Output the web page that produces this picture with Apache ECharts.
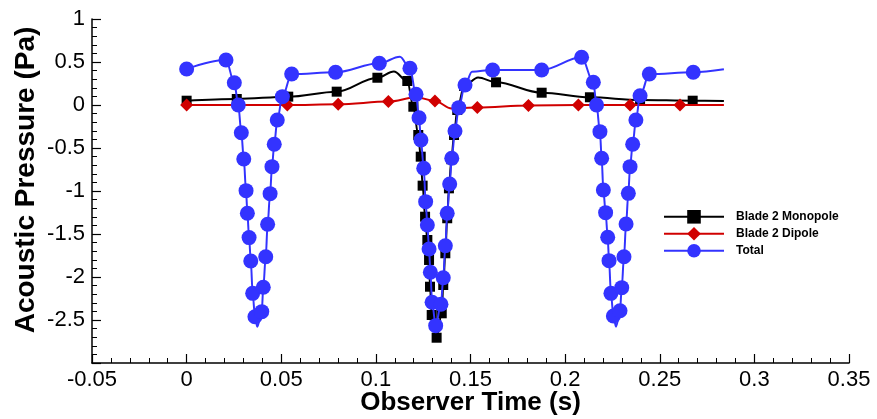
<!DOCTYPE html>
<html><head><meta charset="utf-8">
<script src="https://cdn.jsdelivr.net/npm/echarts@6/dist/echarts.min.js"></script>
<style>html,body{margin:0;padding:0;background:#fff}#c{width:877px;height:419px}</style>
</head><body><div id="c"></div>
<script>
// Series names
const seriesNames = ['Blade 2 Monopole', 'Blade 2 Dipole', 'Total'];

// Blade 2 Monopole: marked points
const monoX = [0.0, 0.0265, 0.0537, 0.0793, 0.1008, 0.1166, 0.1198, 0.1224, 0.1237, 0.1247, 0.1260, 0.1272, 0.1281, 0.1286, 0.1295, 0.1321, 0.1348, 0.1356, 0.1367, 0.1377, 0.1386, 0.1399, 0.1413, 0.1430, 0.1466, 0.1635, 0.1876, 0.2131, 0.2396, 0.2674];
const monoY = [0.05, 0.07, 0.097, 0.155, 0.317, 0.279, -0.02, -0.349, -0.601, -0.938, -1.299, -1.570, -1.802, -2.113, -2.442, -2.706, -2.422, -2.093, -1.724, -1.317, -0.969, -0.631, -0.349, -0.058, 0.221, 0.264, 0.143, 0.09, 0.058, 0.05];
// Blade 2 Monopole: curve points without marker
const monoCurveX = [0.1095, 0.1540, 0.2839];
const monoCurveY = [0.39, 0.32, 0.047];

// Blade 2 Dipole: marked points
const dipX = [0.0, 0.0268, 0.0532, 0.0801, 0.1066, 0.1312, 0.1536, 0.1806, 0.2070, 0.2343, 0.2607];
const dipY = [0.0, 0.0, 0.0, 0.008, 0.04, 0.047, -0.03, -0.005, 0.0, 0.0, 0.0];
const dipCurveX = [0.1215, 0.1400, 0.2839];
const dipCurveY = [0.09, -0.04, 0.0];

// Total: marked points
const totalX = [0.0, 0.0208, 0.0252, 0.0273, 0.0289, 0.0302, 0.0314, 0.0321, 0.0330, 0.0339, 0.0349, 0.0361, 0.0397, 0.0405, 0.0418, 0.0428, 0.0441, 0.0451, 0.0463, 0.0479, 0.0506, 0.0555, 0.0787, 0.1018, 0.1180, 0.1212, 0.1228, 0.1238, 0.1253, 0.1263, 0.1272, 0.1281, 0.1288, 0.1297, 0.1316, 0.1344, 0.1356, 0.1367, 0.1377, 0.1390, 0.1401, 0.1418, 0.1438, 0.1471, 0.1617, 0.1876, 0.2087, 0.2149, 0.2166, 0.2184, 0.2193, 0.2202, 0.2214, 0.2225, 0.2232, 0.2242, 0.2255, 0.2290, 0.2299, 0.2311, 0.2322, 0.2334, 0.2343, 0.2357, 0.2374, 0.2396, 0.2445, 0.2677];
const totalY = [0.419, 0.523, 0.259, 0.0, -0.322, -0.628, -0.996, -1.259, -1.542, -1.814, -2.19, -2.462, -2.403, -2.12, -1.764, -1.387, -1.031, -0.717, -0.457, -0.174, 0.097, 0.36, 0.38, 0.485, 0.427, 0.124, -0.148, -0.407, -0.736, -1.124, -1.395, -1.674, -1.945, -2.294, -2.566, -2.317, -2.008, -1.636, -1.259, -0.919, -0.62, -0.302, -0.031, 0.233, 0.407, 0.407, 0.555, 0.264, 0.0, -0.31, -0.62, -0.988, -1.252, -1.538, -1.81, -2.19, -2.453, -2.392, -2.124, -1.764, -1.384, -1.027, -0.717, -0.457, -0.174, 0.108, 0.36, 0.38];
const totalCurveX = [0.0373, 0.1127, 0.1508, 0.2269, 0.2839];
const totalCurveY = [-2.578, 0.562, 0.387, -2.578, 0.415];

// Axis ticks
const xMin = -0.05, xMax = 0.35, xStep = 0.05;
const yMin = -3, yMax = 1, yStep = 0.5;

function build(mx, my, cx, cy) {
  const pts = [];
  mx.forEach((x, i) => pts.push({ x, y: my[i], m: true }));
  cx.forEach((x, i) => pts.push({ x, y: cy[i], m: false }));
  pts.sort((a, b) => a.x - b.x);
  return pts.map(p => p.m ? [p.x, p.y] : { value: [p.x, p.y], symbol: 'none' });
}

const FONT = '"Liberation Sans", Arial, Helvetica, sans-serif';
const chart = echarts.init(document.getElementById('c'), null, { renderer: 'canvas' });

const lineBase = {
  type: 'line', smooth: 0.35, smoothMonotone: 'x', showAllSymbol: true,
  animation: false, clip: false
};

chart.setOption({
  animation: false,
  backgroundColor: '#fff',
  grid: { left: 92, right: 28, top: 19, bottom: 56, containLabel: false, outerBoundsMode: 'none' },
  legend: {
    orient: 'vertical', left: 658, top: 205,
    itemWidth: 60, itemHeight: 17, itemGap: 3.4,
    textStyle: { fontFamily: FONT, fontWeight: 'bold', fontSize: 12, color: '#000', padding: [0, 0, 0, 7] },
    data: seriesNames
  },
  xAxis: {
    type: 'value', min: xMin, max: xMax, interval: xStep,
    name: 'Observer Time (s)', nameLocation: 'middle', nameGap: 27, nameMoveOverlap: false,
    nameTextStyle: { fontFamily: FONT, fontWeight: 'bold', fontSize: 26, color: '#000' },
    axisLine: { show: true, onZero: false, lineStyle: { color: '#000', width: 1.5 } },
    axisTick: { show: true, inside: true, length: 9, lineStyle: { color: '#000', width: 1.2 } },
    minorTick: { show: true, splitNumber: 5, length: 5, lineStyle: { color: '#000', width: 1 } },
    axisLabel: { fontFamily: FONT, fontSize: 22, color: '#000', margin: 6 },
    splitLine: { show: false }
  },
  yAxis: {
    type: 'value', min: yMin, max: yMax, interval: yStep,
    name: 'Acoustic Pressure (Pa)', nameLocation: 'middle', nameGap: 52, nameRotate: 90, nameMoveOverlap: false,
    nameTextStyle: { fontFamily: FONT, fontWeight: 'bold', fontSize: 28, color: '#000', padding: [0, 0, 0, 22] },
    axisLine: { show: true, onZero: false, lineStyle: { color: '#000', width: 1.5 } },
    axisTick: { show: true, inside: true, length: 9, lineStyle: { color: '#000', width: 1.2 } },
    minorTick: { show: true, splitNumber: 5, length: 5, lineStyle: { color: '#000', width: 1 } },
    axisLabel: { fontFamily: FONT, fontSize: 22, color: '#000', margin: 7, showMinLabel: false },
    splitLine: { show: false }
  },
  series: [
    Object.assign({}, lineBase, {
      name: seriesNames[0], data: build(monoX, monoY, monoCurveX, monoCurveY),
      symbol: 'rect', symbolSize: 10, z: 2,
      itemStyle: { color: '#000' }, lineStyle: { color: '#000', width: 2 }
    }),
    Object.assign({}, lineBase, {
      name: seriesNames[1], data: build(dipX, dipY, dipCurveX, dipCurveY),
      symbol: 'diamond', symbolSize: 13, z: 3,
      itemStyle: { color: '#d00000' }, lineStyle: { color: '#d00000', width: 2 }
    }),
    Object.assign({}, lineBase, {
      name: seriesNames[2], data: build(totalX, totalY, totalCurveX, totalCurveY),
      symbol: 'circle', symbolSize: 15, z: 4,
      itemStyle: { color: '#3333ff' }, lineStyle: { color: '#3333ff', width: 2 }
    })
  ]
});
</script></body></html>
